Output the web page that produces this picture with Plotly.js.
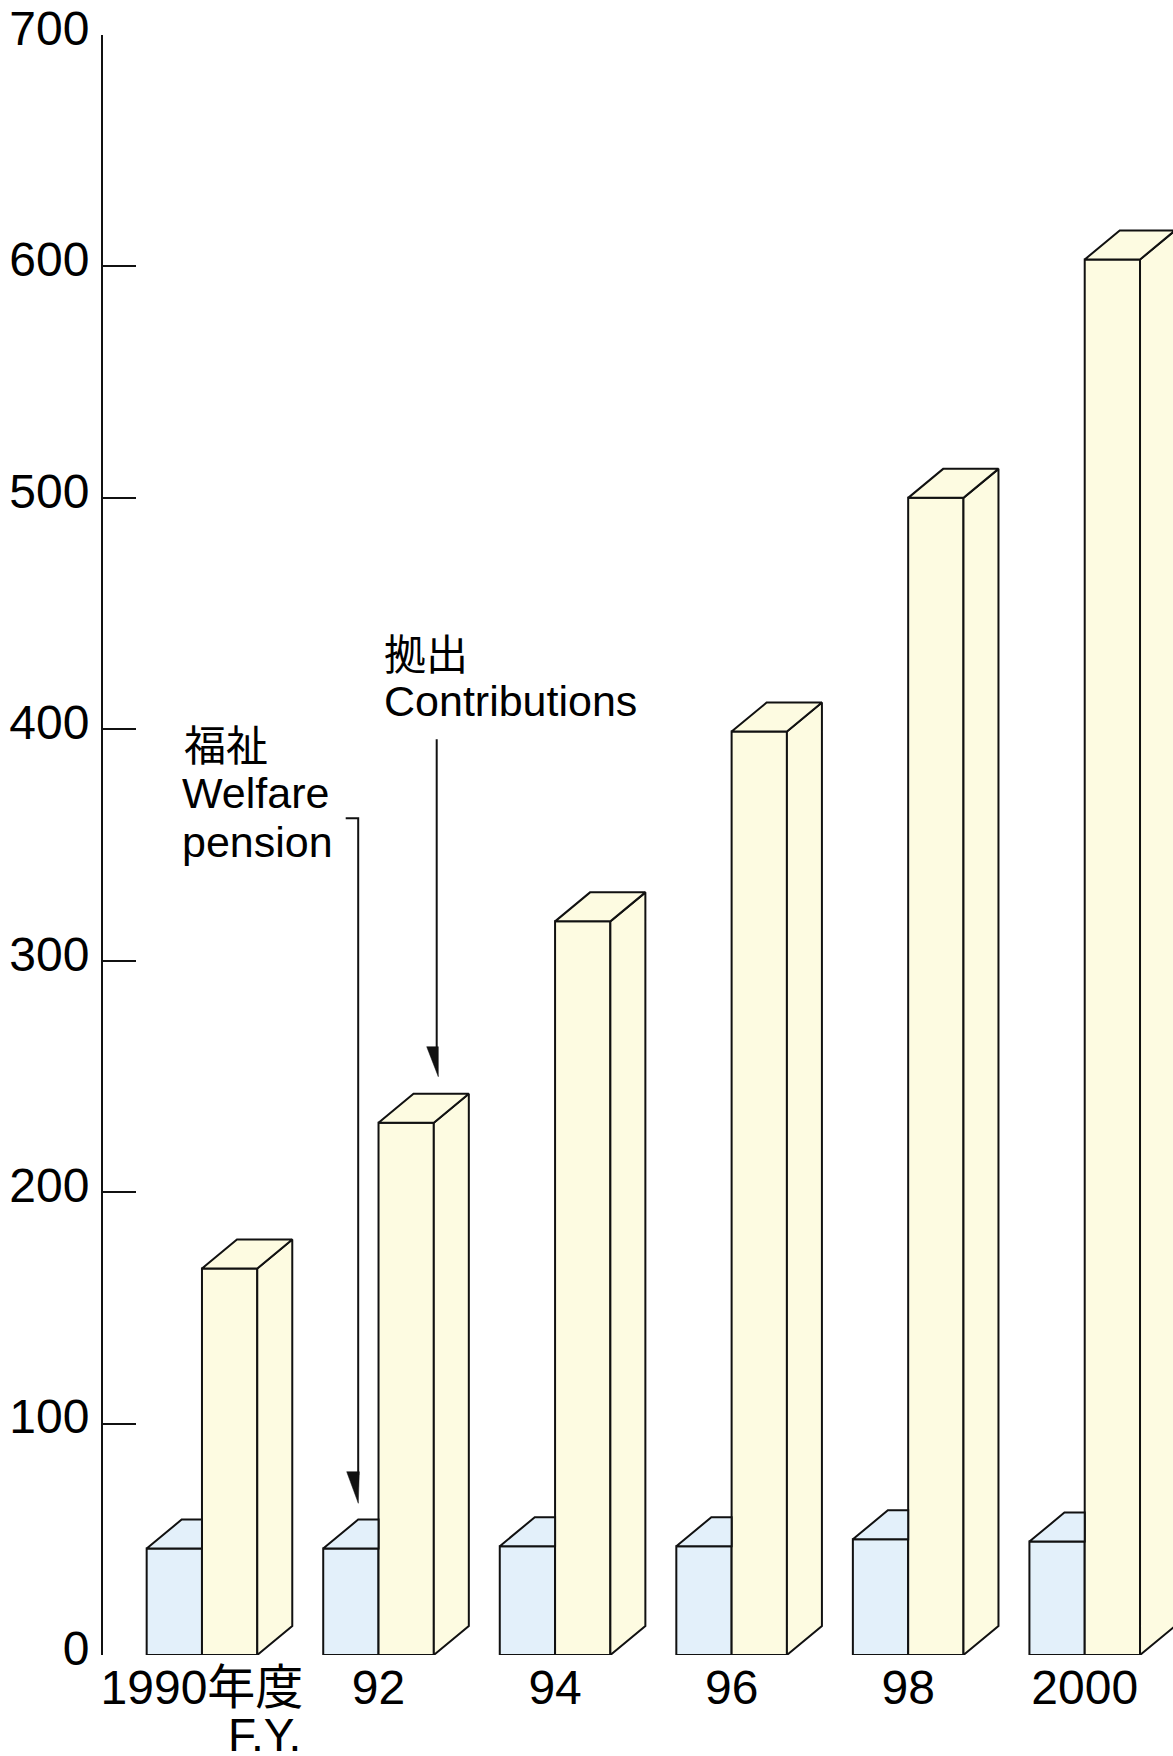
<!DOCTYPE html>
<html>
<head>
<meta charset="utf-8">
<script src="https://cdn.plot.ly/plotly-3.0.1.min.js"></script>
<style>html,body{margin:0;padding:0;background:#fff;}#chart{width:1173px;height:1756px;}</style>
</head>
<body>
<div id="chart"></div>
<script>
// ---- data ----
const yearLabels = ['1990年度', '92', '94', '96', '98', '2000'];
const welfarePension = [46, 46, 47, 47, 50, 49];
const contributions = [167, 230, 317, 399, 500, 603];
const yTicks = [0, 100, 200, 300, 400, 500, 600, 700];

// ---- geometry / style ----
const W_PX = 1173, H_PX = 1756;
const L = 103, R = 0, T = 35, B = 101;
const plotW = W_PX - L - R, plotH = H_PX - T - B;
const xRange = [-0.5606, 5.5];
const yRange = [0, 700];
const pxPerX = plotW / (xRange[1] - xRange[0]);
const pxPerY = plotH / (yRange[1] - yRange[0]);
const barW = 55.3 / pxPerX;      // bar width in x units
const dX = 35 / pxPerX;          // depth offset in x units
const dY = 29 / pxPerY;          // depth offset in y units
const blueCol = '#E3F0FA', yellowCol = '#FDFBE1', edge = '#111111', lw = 2;
const FONT = 'Liberation Sans, Arial, Noto Sans CJK JP, sans-serif';
const TICKSIZE = 48;

const xs = yearLabels.map((_, i) => i);

function polys(builder, n) {
  const X = [], Y = [];
  for (let i = 0; i < n; i++) {
    const p = builder(i);
    p.forEach(pt => { X.push(pt[0]); Y.push(pt[1]); });
    X.push(p[0][0]); Y.push(p[0][1]);
    X.push(null); Y.push(null);
  }
  return {X, Y};
}

// blue top (visible part, left of yellow front)
const blueTop = polys(i => {
  const xl = xs[i] - barW, xr = xs[i], v = welfarePension[i];
  return [[xl, v], [xl + dX, v + dY], [xr, v + dY], [xr, v]];
}, xs.length);
// yellow side
const yelSide = polys(i => {
  const xr = xs[i] + barW, v = contributions[i];
  return [[xr, 0], [xr, v], [xr + dX, v + dY], [xr + dX, dY]];
}, xs.length);
// yellow top
const yelTop = polys(i => {
  const xl = xs[i], xr = xs[i] + barW, v = contributions[i];
  return [[xl, v], [xl + dX, v + dY], [xr + dX, v + dY], [xr, v]];
}, xs.length);

function face(p, col) {
  return {type: 'scatter', mode: 'lines', x: p.X, y: p.Y, fill: 'toself', fillcolor: col,
    line: {color: edge, width: lw}, hoverinfo: 'skip', showlegend: false, connectgaps: false};
}

const traces = [
  {type: 'bar', x: xs, y: welfarePension, width: barW, offset: -barW, name: '福祉 Welfare pension',
   marker: {color: blueCol, line: {color: edge, width: lw}}, hoverinfo: 'skip', showlegend: false},
  {type: 'bar', x: xs, y: contributions, width: barW, offset: 0, name: '拠出 Contributions',
   marker: {color: yellowCol, line: {color: edge, width: lw}}, hoverinfo: 'skip', showlegend: false},
  face(blueTop, blueCol),
  face(yelSide, yellowCol),
  face(yelTop, yellowCol)
];

// pixel -> paper helpers
const px = x => (x - L) / plotW;
const py = y => (T + plotH - y) / plotH;

function ann(text, x, y, anchor, size) {
  return {text, x: px(x), y: py(y), xref: 'paper', yref: 'paper', showarrow: false,
    xanchor: anchor, yanchor: 'middle', font: {family: FONT, size: size, color: '#000'}};
}

const annotations = [
  ann('福祉', 182, 746, 'left', 42),
  ann('Welfare', 180, 793, 'left', 43),
  ann('pension', 180, 842, 'left', 43),
  ann('拠出', 382, 655, 'left', 42),
  ann('Contributions', 382, 701, 'left', 43),
  ann('F.Y.', 303, 1735, 'right', 46)
];

const shapes = [
  {type: 'path', xref: 'paper', yref: 'paper',
   path: `M${px(345.7)},${py(818.3)} L${px(358.2)},${py(818.3)} L${px(358.2)},${py(1475)}`,
   line: {color: edge, width: lw}},
  {type: 'path', xref: 'paper', yref: 'paper',
   path: `M${px(346.7)},${py(1471.7)} L${px(359.3)},${py(1471.7)} L${px(358.3)},${py(1503.3)} Z`,
   line: {color: edge, width: 0.5}, fillcolor: edge},
  {type: 'path', xref: 'paper', yref: 'paper',
   path: `M${px(436.7)},${py(739.3)} L${px(436.7)},${py(1049)}`,
   line: {color: edge, width: lw}},
  {type: 'path', xref: 'paper', yref: 'paper',
   path: `M${px(426.7)},${py(1046.7)} L${px(438.3)},${py(1046.7)} L${px(438.3)},${py(1076.7)} Z`,
   line: {color: edge, width: 0.5}, fillcolor: edge}
];

const layout = {
  width: W_PX, height: H_PX,
  margin: {l: L, r: R, t: T, b: B, pad: 0},
  paper_bgcolor: '#fff', plot_bgcolor: 'rgba(0,0,0,0)',
  barmode: 'overlay',
  showlegend: false,
  font: {family: FONT, color: '#000'},
  xaxis: {range: xRange, tickvals: xs, ticktext: yearLabels, showgrid: false, zeroline: false,
    showline: false, ticks: '', tickfont: {family: FONT, size: TICKSIZE, color: '#000'}, fixedrange: true,
    ticklabelstandoff: 0},
  yaxis: {range: yRange, tickvals: yTicks, showgrid: false, zeroline: false, showline: true,
    linecolor: edge, linewidth: lw, ticks: 'inside', ticklen: 33, tickwidth: lw, tickcolor: edge,
    tickfont: {family: FONT, size: TICKSIZE, color: '#000'}, fixedrange: true, ticklabelshift: -7,
    ticklabelstandoff: 2},
  annotations, shapes
};

Plotly.newPlot('chart', traces, layout, {displayModeBar: false, staticPlot: true});
</script>
</body>
</html>
